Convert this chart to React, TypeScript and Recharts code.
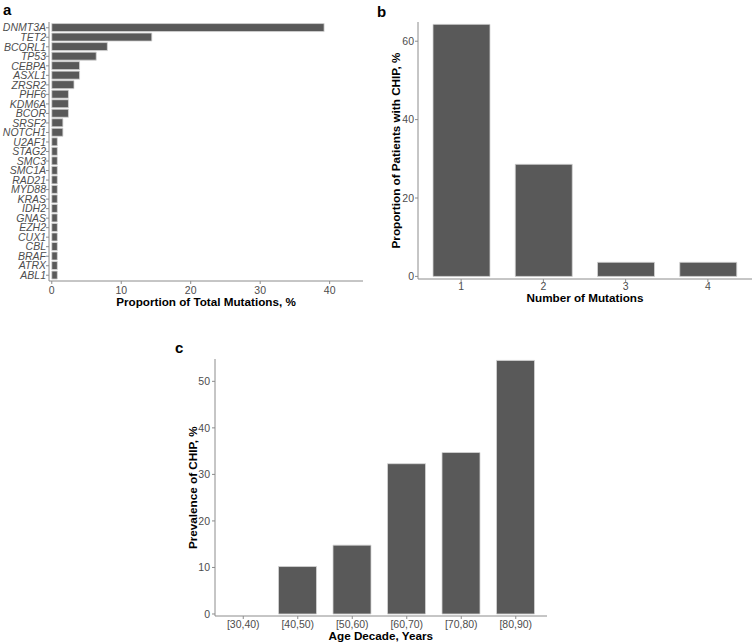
import React from 'react';
import { BarChart, Bar, XAxis, YAxis } from 'recharts';

const genes = ['DNMT3A','TET2','BCORL1','TP53','CEBPA','ASXL1','ZRSR2','PHF6','KDM6A','BCOR','SRSF2','NOTCH1','U2AF1','STAG2','SMC3','SMC1A','RAD21','MYD88','KRAS','IDH2','GNAS','EZH2','CUX1','CBL','BRAF','ATRX','ABL1'];
const geneProportions = [39.2,14.4,8.0,6.4,4.0,4.0,3.2,2.4,2.4,2.4,1.6,1.6,0.8,0.8,0.8,0.8,0.8,0.8,0.8,0.8,0.8,0.8,0.8,0.8,0.8,0.8,0.8];
const geneTicks = [0, 10, 20, 30, 40];

const mutationCounts = ['1','2','3','4'];
const patientProportions = [64.3, 28.6, 3.6, 3.6];
const patientTicks = [0, 20, 40, 60];

const ageDecades = ['[30,40)','[40,50)','[50,60)','[60,70)','[70,80)','[80,90)'];
const prevalence = [0, 10.2, 14.8, 32.3, 34.7, 54.5];
const prevalenceTicks = [0, 10, 20, 30, 40, 50];

const dataA = genes.map((g, i) => ({ name: g, value: geneProportions[i] }));
const dataB = mutationCounts.map((m, i) => ({ name: m, value: patientProportions[i] }));
const dataC = ageDecades.map((a, i) => ({ name: a, value: prevalence[i] }));

const FONT = '"Liberation Sans", Arial, sans-serif';
const TICK_COLOR = '#4D4D4D';
const AXIS_COLOR = '#8c8c8c';
const BAR_FILL = '#595959';
const BAR_STROKE = '#d4d4d4';
const tickStyle = { fill: TICK_COLOR, fontSize: 10.5, fontFamily: FONT };
const axisLine = { stroke: AXIS_COLOR, strokeWidth: 1 };
const tickLine = { stroke: AXIS_COLOR, strokeWidth: 1 };

export default function App() {
  return (
    <div style={{ position: 'absolute', left: 0, top: 0, width: 756, height: 643, background: '#fff', fontFamily: FONT }}>
      <div style={{ position: 'absolute', left: 0, top: 0 }}>
        <BarChart width={370} height={310} data={dataA} layout="vertical" barCategoryGap="6%"
          margin={{ top: 22, right: 7, bottom: 9, left: 0 }}>
          <XAxis type="number" domain={[-0.4, 44.8]} ticks={geneTicks} allowDataOverflow
            height={20} tickSize={3} tickMargin={3} tick={tickStyle} axisLine={axisLine} tickLine={tickLine} />
          <YAxis type="category" dataKey="name" width={49} tickSize={3} tickMargin={0} interval={0}
            padding={{ top: 1, bottom: 1 }}
            tick={{ ...tickStyle, fontStyle: 'italic' }} axisLine={axisLine} tickLine={tickLine} />
          <Bar dataKey="value" fill={BAR_FILL} stroke={BAR_STROKE} strokeWidth={0.8} isAnimationActive={false} />
        </BarChart>
      </div>
      <div style={{ position: 'absolute', left: 380, top: 0 }}>
        <BarChart width={376} height={320} data={dataB} barSize={57}
          margin={{ top: 22, right: 4, bottom: 11, left: 0 }}>
          <XAxis type="category" dataKey="name" height={30} padding={{ left: 2, right: 3 }}
            tickSize={3} tickMargin={1} tick={tickStyle} axisLine={axisLine} tickLine={tickLine} />
          <YAxis type="number" domain={[-0.66, 64.9]} ticks={patientTicks} allowDataOverflow width={38}
            tickSize={3} tickMargin={1} tick={tickStyle} axisLine={axisLine} tickLine={tickLine} />
          <Bar dataKey="value" fill={BAR_FILL} stroke={BAR_STROKE} strokeWidth={0.8} isAnimationActive={false} />
        </BarChart>
      </div>
      <div style={{ position: 'absolute', left: 180, top: 330 }}>
        <BarChart width={376} height={313} data={dataC} barSize={38}
          margin={{ top: 29, right: 9, bottom: 7, left: 0 }}>
          <XAxis type="category" dataKey="name" height={20} padding={{ left: 1, right: 4 }}
            tickSize={3} tickMargin={1.5} tick={tickStyle} axisLine={axisLine} tickLine={tickLine} />
          <YAxis type="number" domain={[-0.43, 54.8]} ticks={prevalenceTicks} allowDataOverflow width={35}
            tickSize={3} tickMargin={2} tick={tickStyle} axisLine={axisLine} tickLine={tickLine} />
          <Bar dataKey="value" fill={BAR_FILL} stroke={BAR_STROKE} strokeWidth={0.8} isAnimationActive={false} />
        </BarChart>
      </div>
      <svg width={756} height={643} style={{ position: 'absolute', left: 0, top: 0, pointerEvents: 'none' }}
        fontFamily={FONT}>
        <text x={3} y={15} fontSize={15} fontWeight="bold" fill="#000">a</text>
        <text x={377} y={17} fontSize={15} fontWeight="bold" fill="#000">b</text>
        <text x={175} y={353} fontSize={15} fontWeight="bold" fill="#000">c</text>

        <text x={206} y={305.5} fontSize={11.7} fontWeight="bold" fill="#000" textAnchor="middle">Proportion of Total Mutations, %</text>

        <text x={585} y={301.7} fontSize={11.7} fontWeight="bold" fill="#000" textAnchor="middle">Number of Mutations</text>
        <text transform="translate(399.5,150.5) rotate(-90)" fontSize={11.7} fontWeight="bold" fill="#000" textAnchor="middle">Proportion of Patients with CHIP, %</text>

        <text x={380.8} y={640} fontSize={11.7} fontWeight="bold" fill="#000" textAnchor="middle">Age Decade, Years</text>
        <text transform="translate(197,487.7) rotate(-90)" fontSize={11.7} fontWeight="bold" fill="#000" textAnchor="middle">Prevalence of CHIP, %</text>
      </svg>
    </div>
  );
}
